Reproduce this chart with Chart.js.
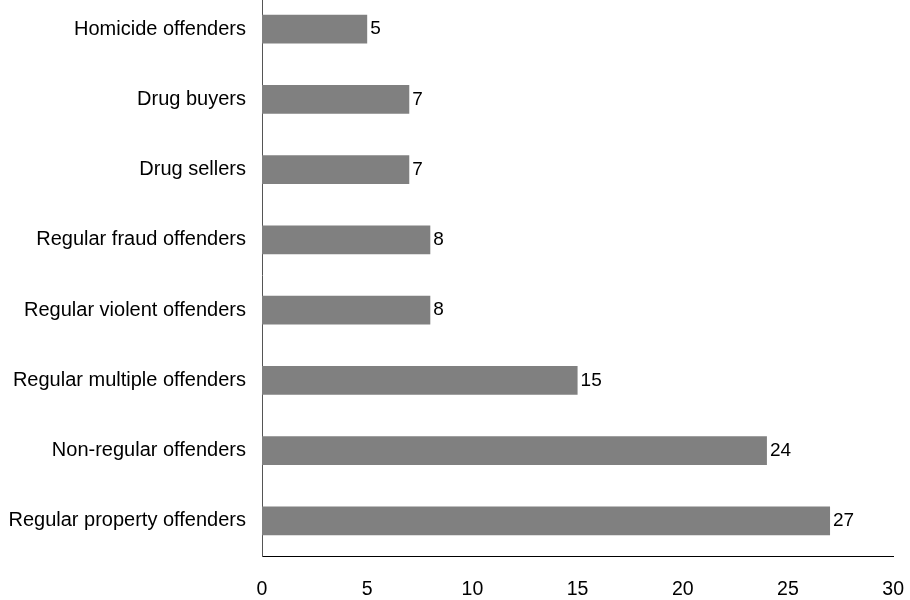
<!DOCTYPE html>
<html>
<head>
<meta charset="utf-8">
<script src="https://cdn.jsdelivr.net/npm/chart.js@4/dist/chart.umd.min.js"></script>
<style>
    html, body { margin: 0; padding: 0; background: #fff; }
    #wrap { position: relative; width: 910px; height: 600px; overflow: hidden; }
    #offendersChart { position: absolute; left: 0; top: -34px; }
</style>
</head>
<body>
<div id="wrap"><canvas id="offendersChart" width="926" height="634"></canvas></div>
<script>
const categories = [
    'Homicide offenders',
    'Drug buyers',
    'Drug sellers',
    'Regular fraud offenders',
    'Regular violent offenders',
    'Regular multiple offenders',
    'Non-regular offenders',
    'Regular property offenders'
];
const values = [5, 7, 7, 8, 8, 15, 24, 27];
const xTicks = [0, 5, 10, 15, 20, 25, 30];

const fontFamily = '"Liberation Sans", Arial, sans-serif';

// value labels to the right of each bar
const barLabels = {
    id: 'barLabels',
    afterDatasetsDraw(chart) {
        const ctx = chart.ctx;
        const meta = chart.getDatasetMeta(0);
        ctx.save();
        ctx.font = '19px ' + fontFamily;
        ctx.fillStyle = '#000';
        ctx.textAlign = 'left';
        ctx.textBaseline = 'middle';
        meta.data.forEach(function(bar, i) {
            ctx.fillText(String(values[i]), bar.x + 3, bar.y);
        });
        ctx.restore();
    }
};

document.addEventListener('DOMContentLoaded', function() {
    const ctx = document.getElementById('offendersChart');
    new Chart(ctx, {
        type: 'bar',
        data: {
            labels: categories,
            datasets: [{
                data: values,
                backgroundColor: '#808080',
                borderWidth: 0,
                barPercentage: 0.41,
                categoryPercentage: 1
            }]
        },
        options: {
            indexAxis: 'y',
            responsive: false,
            animation: false,
            layout: {
                padding: 0
            },
            scales: {
                x: {
                    min: 0,
                    max: 30,
                    afterBuildTicks: function(scale) {
                        scale.ticks = xTicks.map(v => ({ value: v }));
                    },
                    afterFit: function(scale) { scale.height = 44; },
                    grid: { display: false, drawTicks: false },
                    border: { display: true, color: '#000', width: 1 },
                    ticks: {
                        padding: 22,
                        color: '#000',
                        font: { family: fontFamily, size: 19.5 }
                    }
                },
                y: {
                    afterFit: function(scale) { scale.width = 262; },
                    grid: { display: false, drawTicks: false },
                    border: { display: true, color: '#555', width: 1 },
                    ticks: {
                        padding: 16,
                        color: '#000',
                        font: { family: fontFamily, size: 20 }
                    }
                }
            },
            plugins: {
                legend: { display: false },
                tooltip: { enabled: false }
            }
        },
        plugins: [barLabels]
    });
});
</script>
</body>
</html>
